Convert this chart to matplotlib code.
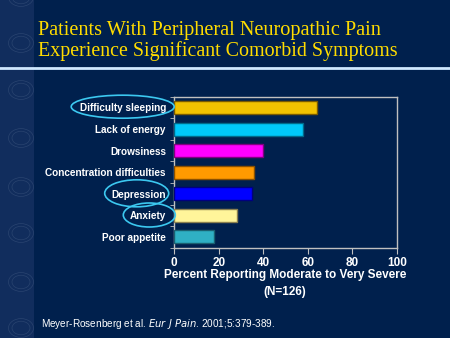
import matplotlib
matplotlib.use("Agg")
import matplotlib.pyplot as plt
from matplotlib.patches import Ellipse, Rectangle, Circle
import numpy as np

categories = ["Difficulty sleeping", "Lack of energy", "Drowsiness",
              "Concentration difficulties", "Depression", "Anxiety", "Poor appetite"]
values = [64, 58, 40, 36, 35, 28, 18]
colors = ["#f2c200", "#00c8fa", "#ff00ff", "#ff9a00", "#0000ff", "#fff59a", "#2fb0c4"]
edge_colors = ["#7a5a00", "#006a8a", "#800080", "#8a5000", "#000080", "#8a8050", "#1a6070"]
xticks = [0, 20, 40, 60, 80, 100]
circled = ["Difficulty sleeping", "Depression", "Anxiety"]

W, H = 450, 338
BG = "#00204d"
fig = plt.figure(figsize=(W / 100, H / 100), dpi=100, facecolor=BG)

# left decorative strip
fig.patches.append(Rectangle((0, 0), 34 / W, 1, transform=fig.transFigure,
                             facecolor="#112d5d", edgecolor="none", zorder=0))
for cy in [-3, 43, 90, 138, 187, 233, 282, 328]:
    for r in (9, 12.5):
        fig.patches.append(Circle((21 / W, 1 - cy / H), r / W, transform=fig.transFigure,
                                  facecolor="none", edgecolor="#2a4470", lw=0.5, zorder=0))

# title
fig.text(38 / W, 1 - 30 / H, "Patients With Peripheral Neuropathic Pain",
         color="#ffdc00", fontsize=14.6, family="Liberation Serif", va="center", ha="left")
fig.text(38 / W, 1 - 51 / H, "Experience Significant Comorbid Symptoms",
         color="#ffdc00", fontsize=14.4, family="Liberation Serif", va="center", ha="left")
# separator line
fig.add_artist(plt.Line2D([0, 1], [1 - 68 / H, 1 - 68 / H], transform=fig.transFigure,
                          color="#cfe8ff", lw=2.0))

ax = fig.add_axes([174.3 / W, 1 - 247.7 / H, (397 - 174.3) / W, (247.7 - 96.7) / H])
ax.set_facecolor(BG)
y = np.arange(len(categories))
ax.barh(y, values, height=0.6, color=colors, edgecolor=edge_colors, linewidth=1.0, zorder=3)
ax.set_ylim(len(categories) - 0.5, -0.5)
ax.set_xlim(0, 100)
ax.set_xticks(xticks)
ax.set_xticklabels([str(t) for t in xticks])
ax.set_yticks(y)
ax.set_yticklabels(categories)
ax.set_yticks(np.arange(len(categories) + 1) - 0.5, minor=True)
ax.tick_params(axis="y", which="major", length=0, pad=6, labelsize=7.2, labelcolor="white")
ax.tick_params(axis="y", which="minor", length=3, color="#c0c0c0", direction="out")
ax.tick_params(axis="x", length=4, color="#c0c0c0", direction="out", labelsize=8.5,
               labelcolor="white", pad=3)
for lbl in ax.get_yticklabels() + ax.get_xticklabels():
    lbl.set_family("Liberation Sans")
    lbl.set_fontweight("bold")
for s in ax.spines.values():
    s.set_color("#c0c0c0")
    s.set_linewidth(1.0)

fig.text(285 / W, 1 - 275 / H, "Percent Reporting Moderate to Very Severe", color="white",
         fontsize=8.5, family="Liberation Sans", fontweight="bold", ha="center", va="center")
fig.text(285 / W, 1 - 292 / H, "(N=126)", color="white",
         fontsize=8.5, family="Liberation Sans", fontweight="bold", ha="center", va="center")

# citation
fig.text(41 / W, 1 - 324 / H,
         r"Meyer-Rosenberg et al. $\it{Eur\ J\ Pain}$. 2001;5:379-389.",
         color="white", fontsize=7.2, family="Liberation Sans", ha="left", va="center")

# ellipses around selected labels
ell = {"Difficulty sleeping": (122.7, 106.7, 103, 23),
       "Depression": (136.7, 193.3, 64, 27),
       "Anxiety": (149.3, 215, 52, 24)}
for name in circled:
    cx, cy, w, h = ell[name]
    fig.patches.append(Ellipse((cx / W, 1 - cy / H), w / W, h / H, transform=fig.transFigure,
                               facecolor="none", edgecolor="#3cc8f0", lw=1.2, zorder=5))

fig.savefig("out.png", dpi=100, facecolor=BG)
